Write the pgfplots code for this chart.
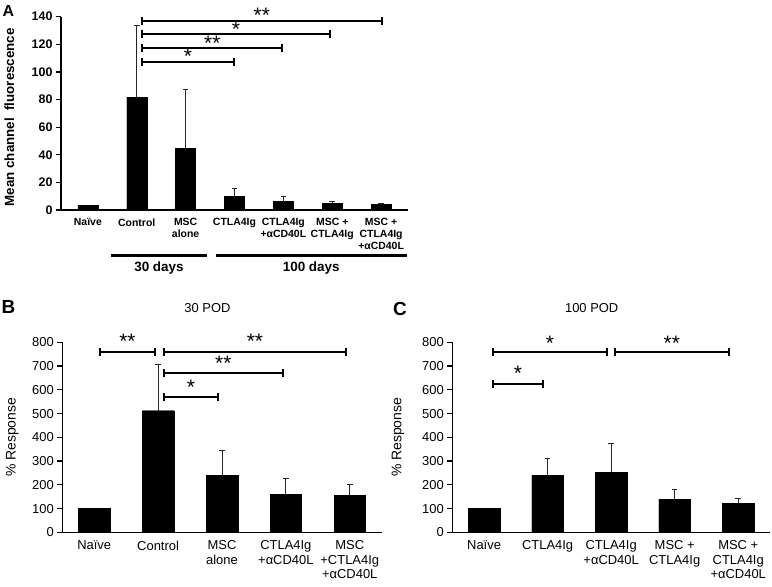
\documentclass[border=0pt]{standalone}
\usepackage{pgfplots}
\pgfplotsset{compat=1.18}
\usepackage{fontspec}
\setmainfont{Liberation Sans}

% #1 x start, #2 x end, #3 y, #4 x centre, #5 label, #6 yshift of label
\newcommand{\sig}[6]{%
  \draw[line width=2bp] (axis cs:#1,#3) -- (axis cs:#2,#3);
  \draw[line width=2bp] ([yshift=-4bp]axis cs:#1,#3) -- ([yshift=4bp]axis cs:#1,#3);
  \draw[line width=2bp] ([yshift=-4bp]axis cs:#2,#3) -- ([yshift=4bp]axis cs:#2,#3);
  \node[anchor=base, inner sep=0pt, font=\fontsize{21}{21}\selectfont] at ([yshift=#6]axis cs:#4,#3) {#5};}

\pgfplotstableread{
x y e
0 3.3 0
1 81.8 51.9
2 44.9 42.7
3 9.7 5.7
4 6.3 3.6
5 4.8 1.0
6 3.9 0.6
}\dataA
\pgfplotstableread{
x y e
0 100 0
1 512 193
2 239 106
3 161 65
4 157 44
}\dataB
\pgfplotstableread{
x y e
0 100 0
1 240 72
2 253 122
3 140 42
4 121 22
}\dataC

\begin{document}
\begin{tikzpicture}
\useasboundingbox (0bp,0bp) rectangle (772bp,587bp);
\pgfplotsset{
  every axis/.append style={
    scale only axis, anchor=south west,
    axis x line=bottom, axis y line=left,
    axis line style={-, line width=1.5bp},
    /pgf/number format/assume math mode=true,
    tick align=outside, major tick length=5bp,
    xtick style={draw=none}, ytick style={line width=1.2bp, black},
    clip=false,
  },
  bars/.style={ybar, fill=black, draw=black, bar width=#1},
  errs/.style={skip coords between index={0}{1},
    error bars/.cd, y dir=plus, y explicit,
    error bar style={line width=1bp, black!85},
    error mark options={rotate=90, line width=1bp, mark size=2.8bp, black!85}},
}

% Panel A
\begin{axis}[at={(61bp,377bp)}, width=347bp, height=193.3bp,
  xmin=-0.55, xmax=6.55, ymin=0, ymax=140,
  ytick={0,20,...,140}, xtick={0,...,6},
  xticklabels={{Naïve},{Control},{MSC\\alone},{CTLA4Ig},{CTLA4Ig\\+αCD40L},{MSC +\\CTLA4Ig},{MSC +\\CTLA4Ig\\+αCD40L}},
  yticklabel style={font=\bfseries\fontsize{12.5}{13}\selectfont},
  xticklabel style={font=\bfseries\fontsize{10.5}{11.7}\selectfont, align=center},
  ylabel={Mean channel\ \ fluorescence},
  ylabel style={font=\bfseries\fontsize{13.4}{14}\selectfont, at={(axis description cs:-0.149,0.48)}, anchor=center},
]
\addplot[bars=20bp, forget plot] table[x=x, y=y] {\dataA};
\addplot[bars=20bp, errs] table[x=x, y=y, y error=e] {\dataA};
\sig{1.11}{6.01}{137.1}{3.56}{**}{-2.2bp}
\sig{1.11}{4.95}{127.4}{3.03}{*}{-2.2bp}
\sig{1.11}{3.98}{117.1}{2.545}{**}{-2.2bp}
\sig{1.11}{2.99}{107.4}{2.05}{*}{-2.2bp}
\draw[line width=2.4bp] (axis cs:0.48,-33.1) -- (axis cs:2.43,-33.1);
\draw[line width=2.4bp] (axis cs:2.62,-33.1) -- (axis cs:6.52,-33.1);
\node[font=\bfseries\fontsize{13.5}{14}\selectfont] at (axis cs:1.455,-42.2) {30 days};
\node[font=\bfseries\fontsize{13.5}{14}\selectfont] at (axis cs:4.57,-42.2) {100 days};
\end{axis}

% Panel B
\begin{axis}[at={(62.3bp,54.7bp)}, width=319.4bp, height=190bp,
  xmin=-0.5, xmax=4.5, ymin=0, ymax=800,
  ytick={0,100,...,800}, xtick={0,...,4},
  xticklabels={{Naïve},{Control},{MSC\\alone},{CTLA4Ig\\+αCD40L},{MSC\\+CTLA4Ig\\+αCD40L}},
  yticklabel style={font=\fontsize{13}{14}\selectfont},
  xticklabel style={font=\fontsize{13}{14.5}\selectfont, align=center},
  ylabel={\% Response},
  ylabel style={font=\fontsize{14}{15}\selectfont, at={(axis description cs:-0.157,0.5)}, anchor=center},
]
\addplot[bars=31.5bp, forget plot] table[x=x, y=y] {\dataB};
\addplot[bars=31.5bp, errs] table[x=x, y=y, y error=e] {\dataB};
\sig{0.09}{0.95}{759}{0.52}{**}{3.3bp}
\sig{1.09}{3.94}{759}{2.515}{**}{3.3bp}
\sig{1.09}{2.95}{669}{2.02}{**}{3.3bp}
\sig{1.09}{1.94}{568}{1.515}{*}{3.3bp}
\end{axis}

% Panel C
\begin{axis}[at={(452.3bp,54.7bp)}, width=317.7bp, height=190bp,
  xmin=-0.5, xmax=4.5, ymin=0, ymax=800,
  ytick={0,100,...,800}, xtick={0,...,4},
  xticklabels={{Naïve},{CTLA4Ig},{CTLA4Ig\\+αCD40L},{MSC +\\CTLA4Ig},{MSC +\\CTLA4Ig\\+αCD40L}},
  yticklabel style={font=\fontsize{13}{14}\selectfont},
  xticklabel style={font=\fontsize{13}{14.5}\selectfont, align=center},
  ylabel={\% Response},
  ylabel style={font=\fontsize{14}{15}\selectfont, at={(axis description cs:-0.171,0.5)}, anchor=center},
]
\addplot[bars=31.5bp, forget plot] table[x=x, y=y] {\dataC};
\addplot[bars=31.5bp, errs] table[x=x, y=y, y error=e] {\dataC};
\sig{0.14}{1.93}{761}{1.035}{*}{1.3bp}
\sig{2.06}{3.85}{761}{2.955}{**}{1.3bp}
\sig{0.14}{0.93}{623}{0.535}{*}{4bp}
\end{axis}

% Panel letters and titles
\node[font=\bfseries\fontsize{16}{16}\selectfont] at (8.5bp,575.5bp) {A};
\node[font=\bfseries\fontsize{19}{19}\selectfont] at (8.5bp,280.5bp) {B};
\node[font=\bfseries\fontsize{19}{19}\selectfont] at (400bp,278bp) {C};
\node[font=\fontsize{13}{14}\selectfont] at (207.5bp,279bp) {30 POD};
\node[font=\fontsize{13}{14}\selectfont] at (591.7bp,279bp) {100 POD};
\end{tikzpicture}
\end{document}
